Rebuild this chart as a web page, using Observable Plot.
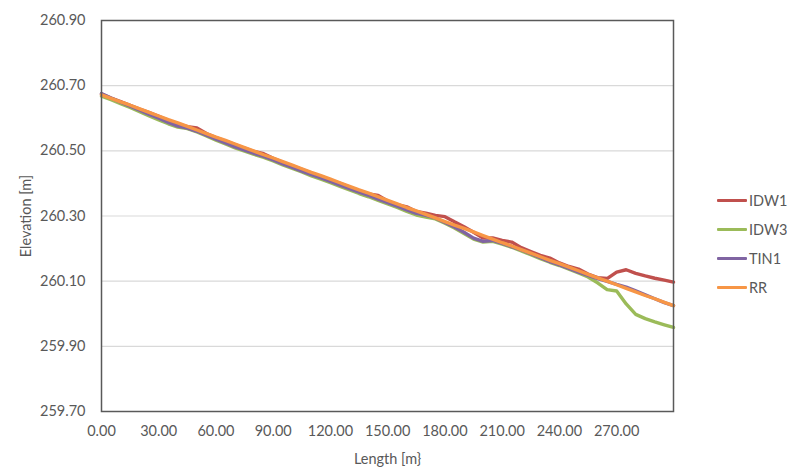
<!DOCTYPE html>
<html><head><meta charset="utf-8">
<script src="https://cdn.jsdelivr.net/npm/d3@7"></script>
<script src="https://cdn.jsdelivr.net/npm/@observablehq/plot@0.6"></script>
<style>
body{margin:0;background:#fff;font-family:Lato,"Open Sans",sans-serif;}
#wrap{position:relative;width:787px;height:470px;}
.item{position:absolute;left:717px;height:20px;display:flex;align-items:center;white-space:nowrap;font-size:14.5px;color:#595959;font-family:Lato,sans-serif}
.sw{width:30px;height:3px;margin-right:2px;border-radius:1px}
</style></head><body><div id="wrap"></div>
<script>
const lengths=[0,5,10,15,20,25,30,35,40,45,50,55,60,65,70,75,80,85,90,95,100,105,110,115,120,125,130,135,140,145,150,155,160,165,170,175,180,185,190,195,200,205,210,215,220,225,230,235,240,245,250,255,260,265,270,275,280,285,290,295,299.8];
const idw1=[260.674,260.662,260.651,260.640,260.628,260.617,260.606,260.594,260.582,260.574,260.570,260.553,260.541,260.530,260.519,260.508,260.498,260.491,260.477,260.465,260.454,260.443,260.432,260.421,260.410,260.400,260.389,260.378,260.368,260.363,260.346,260.335,260.328,260.314,260.309,260.302,260.298,260.282,260.267,260.250,260.232,260.233,260.225,260.220,260.203,260.191,260.179,260.171,260.156,260.145,260.137,260.122,260.111,260.108,260.128,260.135,260.124,260.116,260.109,260.103,260.097];
const idw3=[260.668,260.657,260.645,260.633,260.620,260.607,260.595,260.583,260.573,260.568,260.558,260.546,260.533,260.521,260.509,260.499,260.489,260.480,260.469,260.457,260.446,260.435,260.423,260.413,260.402,260.391,260.380,260.369,260.359,260.348,260.337,260.326,260.314,260.303,260.297,260.291,260.278,260.263,260.246,260.229,260.220,260.222,260.214,260.204,260.193,260.181,260.169,260.158,260.148,260.137,260.125,260.113,260.095,260.074,260.070,260.030,259.998,259.985,259.975,259.966,259.958];
const tin1=[260.676,260.662,260.649,260.637,260.625,260.612,260.600,260.587,260.576,260.570,260.560,260.548,260.536,260.524,260.512,260.502,260.492,260.483,260.472,260.460,260.449,260.438,260.427,260.417,260.406,260.395,260.384,260.373,260.363,260.352,260.341,260.330,260.319,260.308,260.302,260.294,260.280,260.266,260.250,260.232,260.222,260.225,260.216,260.206,260.196,260.184,260.172,260.160,260.150,260.139,260.128,260.118,260.108,260.099,260.090,260.082,260.070,260.058,260.046,260.034,260.025];
const rr=[260.672,260.661,260.650,260.640,260.629,260.618,260.607,260.596,260.586,260.575,260.564,260.553,260.542,260.532,260.521,260.510,260.499,260.488,260.478,260.467,260.456,260.445,260.434,260.424,260.413,260.402,260.391,260.380,260.370,260.359,260.348,260.337,260.326,260.316,260.305,260.294,260.283,260.272,260.262,260.251,260.240,260.229,260.218,260.208,260.197,260.186,260.175,260.164,260.154,260.143,260.132,260.121,260.110,260.100,260.089,260.078,260.067,260.056,260.046,260.035,260.025];
const seriesNames=["IDW1","IDW3","TIN1","RR"];
const seriesColors=["#C0504D","#9BBB59","#8064A2","#F79646"];
const yTicks=[259.7,259.9,260.1,260.3,260.5,260.7,260.9];
const xTicks=[0,30,60,90,120,150,180,210,240,270];

const seriesValues=[idw1,idw3,tin1,rr];
const rows=seriesNames.flatMap((name,i)=>lengths.map((x,j)=>({x,y:seriesValues[i][j],name})));
const font="Lato, 'Open Sans', sans-serif";
const chart=Plot.plot({
  width:787,height:470,marginLeft:101,marginRight:114,marginTop:20,marginBottom:59,
  style:{fontFamily:font,fontSize:"14.5px",color:"#595959",background:"#fff",overflow:"visible"},
  x:{domain:[0,299.8]},
  y:{domain:[259.7,260.9]},
  color:{domain:seriesNames,range:seriesColors},
  marks:[
    Plot.gridY(yTicks.slice(1,-1),{stroke:"#d9d9d9",strokeOpacity:1,strokeWidth:1.2}),
    Plot.line(rows,{x:"x",y:"y",z:"name",stroke:"name",strokeWidth:3.4,strokeLinejoin:"round",strokeLinecap:"round"}),
    Plot.frame({stroke:"#595959",strokeWidth:1.5}),
    Plot.axisX({ticks:xTicks,tickFormat:d=>d.toFixed(2),tickSize:0,tickPadding:14,label:"Length [m}",labelAnchor:"center",labelArrow:"none",labelOffset:52,fill:"#595959"}),
    Plot.axisY({ticks:yTicks,tickFormat:d=>d.toFixed(2),tickSize:0,tickPadding:16,label:"Elevation [m]",labelAnchor:"center",labelArrow:"none",labelOffset:81,fill:"#595959"})
  ]
});
const wrap=document.getElementById("wrap");
wrap.appendChild(chart);
const legendY=[200,229,258,287];
seriesNames.forEach((n,i)=>{
  const d=document.createElement("div");
  d.className="item";
  d.style.top=(legendY[i]-10)+"px";
  d.innerHTML=`<span class="sw" style="background:${seriesColors[i]}"></span><span>${n}</span>`;
  wrap.appendChild(d);
});
</script>
</body></html>
